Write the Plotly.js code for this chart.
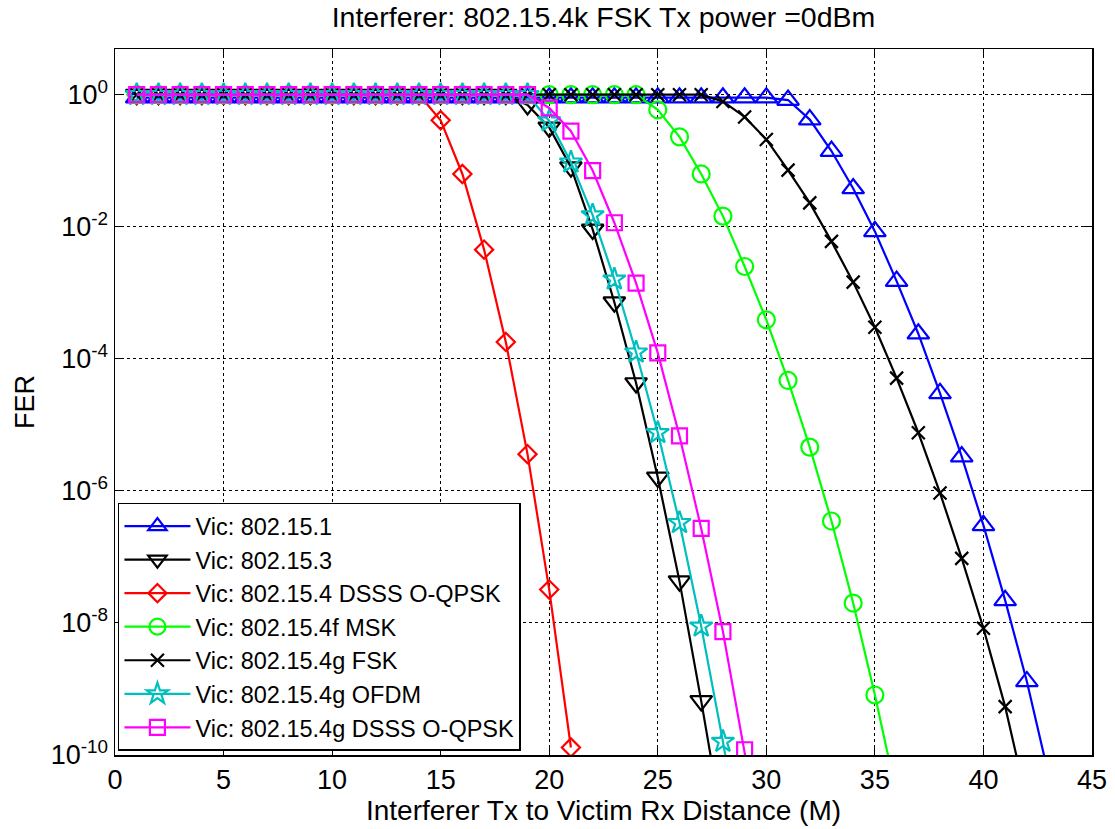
<!DOCTYPE html>
<html>
<head>
<meta charset="utf-8">
<script src="https://cdn.plot.ly/plotly-3.0.1.min.js"></script>
<style>html,body{margin:0;padding:0;background:#fff;}#chart{width:1115px;height:829px;}</style>
</head>
<body>
<div id="chart"></div>
<script>
// ---- data ----
const seriesNames = [
  "Vic: 802.15.1",
  "Vic: 802.15.3",
  "Vic: 802.15.4 DSSS O-QPSK",
  "Vic: 802.15.4f MSK",
  "Vic: 802.15.4g FSK",
  "Vic: 802.15.4g OFDM",
  "Vic: 802.15.4g DSSS O-QPSK"
];

// Vic: 802.15.1
const dist_15_1 = [1,2,3,4,5,6,7,8,9,10,11,12,13,14,15,16,17,18,19,20,21,22,23,24,25,26,27,28,29,30,31,32,33,34,35,36,37,38,39,40,41,42,43];
const fer_15_1  = [0.9,0.9,0.9,0.9,0.9,0.9,0.9,0.9,0.9,0.9,0.9,0.9,0.9,0.9,0.9,0.9,0.9,0.9,0.9,0.9,0.9,0.9,0.9,0.9,0.9,0.9,0.9,0.9,0.9,0.9,
                   0.83,0.42,0.14,3.8e-2,8.5e-3,1.5e-3,2.4e-4,3.0e-5,3.3e-6,3.0e-7,2.2e-8,1.3e-9,5e-11];

// Vic: 802.15.3
const dist_15_3 = [1,2,3,4,5,6,7,8,9,10,11,12,13,14,15,16,17,18,19,20,21,22,23,24,25,26,27,28];
const fer_15_3  = [1,1,1,1,1,1,1,1,1,1,1,1,1,1,1,1,1,1,
                   0.7,0.32,8e-2,9.1e-3,7.2e-4,4.3e-5,1.6e-6,4.3e-8,6.6e-10,8e-12];

// Vic: 802.15.4 DSSS O-QPSK
const dist_15_4 = [1,2,3,4,5,6,7,8,9,10,11,12,13,14,15,16,17,18,19,20,21];
const fer_15_4  = [1,1,1,1,1,1,1,1,1,1,1,1,1,1,
                   0.41,6.3e-2,4.5e-3,1.8e-4,3.6e-6,3.2e-8,1.3e-10];

// Vic: 802.15.4f MSK
const dist_15_4f = [1,2,3,4,5,6,7,8,9,10,11,12,13,14,15,16,17,18,19,20,21,22,23,24,25,26,27,28,29,30,31,32,33,34,35,36];
const fer_15_4f  = [1,1,1,1,1,1,1,1,1,1,1,1,1,1,1,1,1,1,1,1,1,1,1,1,
                    0.59,0.23,6.3e-2,1.45e-2,2.5e-3,3.9e-4,4.7e-5,4.6e-6,3.5e-7,2.0e-8,8.1e-10,2.5e-11];

// Vic: 802.15.4g FSK
const dist_15_4g_fsk = [1,2,3,4,5,6,7,8,9,10,11,12,13,14,15,16,17,18,19,20,21,22,23,24,25,26,27,28,29,30,31,32,33,34,35,36,37,38,39,40,41,42];
const fer_15_4g_fsk  = [1,1,1,1,1,1,1,1,1,1,1,1,1,1,1,1,1,1,1,1,1,1,1,1,1,1,1,
                        0.79,0.46,0.21,7.2e-2,2.3e-2,6.0e-3,1.45e-3,3.0e-4,5.1e-5,7.6e-6,9.3e-7,9.5e-8,8.3e-9,5.4e-10,2e-11];

// Vic: 802.15.4g OFDM
const dist_15_4g_ofdm = [1,2,3,4,5,6,7,8,9,10,11,12,13,14,15,16,17,18,19,20,21,22,23,24,25,26,27,28,29];
const fer_15_4g_ofdm  = [1,1,1,1,1,1,1,1,1,1,1,1,1,1,1,1,1,1,1,
                         0.4,9.5e-2,1.5e-2,1.6e-3,1.26e-4,7.6e-6,3.3e-7,8.9e-9,1.6e-10,2e-12];

// Vic: 802.15.4g DSSS O-QPSK
const dist_15_4g_dsss = [1,2,3,4,5,6,7,8,9,10,11,12,13,14,15,16,17,18,19,20,21,22,23,24,25,26,27,28,29,30];
const fer_15_4g_dsss  = [1,1,1,1,1,1,1,1,1,1,1,1,1,1,1,1,1,1,1,
                         0.63,0.28,7.1e-2,1.15e-2,1.4e-3,1.23e-4,6.8e-6,2.7e-7,7.4e-9,1.2e-10,1.6e-12];

const xTickVals = [0,5,10,15,20,25,30,35,40,45];
const yTickVals = [1,1e-2,1e-4,1e-6,1e-8,1e-10];
const yTickText = ["10<sup>0</sup>","10<sup>-2</sup>","10<sup>-4</sup>","10<sup>-6</sup>","10<sup>-8</sup>","10<sup>-10</sup>"];

// ---- styling ----
const FONT = "Liberation Sans, Arial, sans-serif";
function tr(x, y, name, color, symbol, size) {
  return {
    x: x, y: y, name: name, type: "scatter", mode: "lines+markers",
    line: {color: color, width: 2.2},
    marker: {symbol: symbol, size: size, color: color, line: {color: color, width: 2.2}},
    cliponaxis: true
  };
}
const data = [
  tr(dist_15_1, fer_15_1, seriesNames[0], "#0000FF", "triangle-up-open", 19),
  tr(dist_15_3, fer_15_3, seriesNames[1], "#000000", "triangle-down-open", 19),
  tr(dist_15_4, fer_15_4, seriesNames[2], "#FF0000", "diamond-open", 14),
  tr(dist_15_4f, fer_15_4f, seriesNames[3], "#00FF00", "circle-open", 17),
  tr(dist_15_4g_fsk, fer_15_4g_fsk, seriesNames[4], "#000000", "x-thin-open", 13),
  tr(dist_15_4g_ofdm, fer_15_4g_ofdm, seriesNames[5], "#00BFBF", "star-open", 17),
  tr(dist_15_4g_dsss, fer_15_4g_dsss, seriesNames[6], "#FF00FF", "square-open", 15)
];

const layout = {
  width: 1115, height: 829,
  paper_bgcolor: "#fff", plot_bgcolor: "#fff",
  margin: {l: 115, r: 23, t: 49, b: 74},
  font: {family: FONT, size: 27, color: "#000"},
  title: {
    text: "Interferer: 802.15.4k FSK Tx power =0dBm",
    font: {family: FONT, size: 28.5, color: "#000"},
    x: 0.5, xref: "paper", xanchor: "center",
    y: 1 - 17/829, yref: "container", yanchor: "middle"
  },
  xaxis: {
    range: [0, 45], tickvals: xTickVals, ticktext: xTickVals.map(String),
    ticks: "inside", ticklen: 8, tickwidth: 1, tickcolor: "#000",
    showline: true, linecolor: "#000", linewidth: 1.5, mirror: "ticks",
    showgrid: true, gridcolor: "#000", gridwidth: 1, griddash: "dot",
    zeroline: false,
    tickfont: {family: FONT, size: 27, color: "#000"},
    title: {text: "Interferer Tx to Victim Rx Distance (M)", font: {family: FONT, size: 28, color: "#000"}, standoff: 2}
  },
  yaxis: {
    type: "log", range: [-10, 0.692],
    tickvals: yTickVals, ticktext: yTickText,
    ticks: "inside", ticklen: 8, tickwidth: 1, tickcolor: "#000",
    showline: true, linecolor: "#000", linewidth: 1.5, mirror: "ticks",
    showgrid: true, gridcolor: "#000", gridwidth: 1, griddash: "dot",
    zeroline: false,
    tickfont: {family: FONT, size: 27, color: "#000"},
    title: {text: "FER", font: {family: FONT, size: 27, color: "#000"}, standoff: 8}
  },
  showlegend: true,
  legend: {
    x: 0.003, y: 0.006, xanchor: "left", yanchor: "bottom",
    bgcolor: "#fff", bordercolor: "#000", borderwidth: 1.5,
    font: {family: FONT, size: 23.5, color: "#000"},
    itemwidth: 66, tracegroupgap: 0
  }
};

Plotly.newPlot("chart", data, layout, {displayModeBar: false, staticPlot: true});
</script>
</body>
</html>
